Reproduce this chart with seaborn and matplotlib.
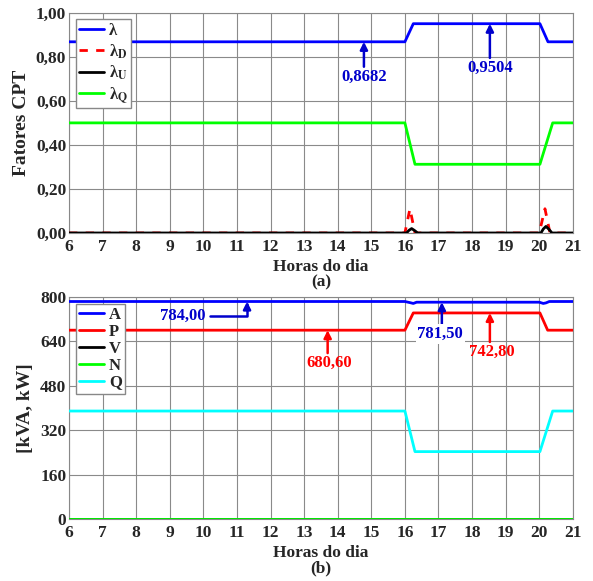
import numpy as np
import pandas as pd
import seaborn as sns
import matplotlib.pyplot as plt

# ---- data ----
hours_ticks = list(range(6, 22))

# (a) CPT factors
lam_h = [6, 16.0, 16.25, 20.02, 20.26, 21]
lam_v = [0.8682, 0.8682, 0.9504, 0.9504, 0.8682, 0.8682]
lamD_h = [6, 16.0, 16.15, 16.3, 20.0, 20.17, 20.32, 21]
lamD_v = [0.0, 0.0, 0.11, 0.0, 0.0, 0.11, 0.0, 0.0]
lamU_h = [6, 16.05, 16.12, 16.2, 16.28, 16.38, 20.05, 20.12, 20.2, 20.28, 20.38, 21]
lamU_v = [0.0, 0.0, 0.012, 0.02, 0.012, 0.0, 0.0, 0.018, 0.03, 0.018, 0.0, 0.0]
lamQ_h = [6, 16.0, 16.3, 20.02, 20.4, 21]
lamQ_v = [0.5, 0.5, 0.312, 0.312, 0.5, 0.5]

# (b) powers
A_h = [6, 16.0, 16.15, 16.25, 16.35, 20.0, 20.12, 20.2, 20.3, 21]
A_v = [784.0, 784.0, 780.0, 777.0, 781.5, 781.5, 777.0, 779.0, 784.0, 784.0]
P_h = [6, 16.0, 16.25, 20.02, 20.25, 21]
P_v = [680.6, 680.6, 742.8, 742.8, 680.6, 680.6]
V_h = [6, 21]
V_v = [0.0, 0.0]
N_h = [6, 21]
N_v = [0.0, 0.0]
Q_h = [6, 16.0, 16.3, 20.02, 20.4, 21]
Q_v = [389.2, 389.2, 242.9, 242.9, 389.2, 389.2]

top_yticks = [0.0, 0.2, 0.4, 0.6, 0.8, 1.0]
top_ylabels = ['0,00', '0,20', '0,40', '0,60', '0,80', '1,00']
bot_yticks = [0, 160, 320, 480, 640, 800]
bot_ylabels = ['0', '160', '320', '480', '640', '800']

sns.set_theme(style='whitegrid')
plt.rcParams['font.family'] = ['Liberation Serif', 'DejaVu Serif']
plt.rcParams['font.weight'] = 'bold'
plt.rcParams['mathtext.fontset'] = 'stix'

fig = plt.figure(figsize=(5.93, 5.81), dpi=100)
ax1 = fig.add_axes([0.1164, 0.599, 0.8496, 0.379])
ax2 = fig.add_axes([0.1164, 0.1067, 0.8496, 0.382])

blue = '#0000ff'
dblue = '#0000cc'
lw = 2.0
ann_fs = 12


def callout(ax, label, color, head, tail, text_xy, conn=None, box=False):
    props = dict(arrowstyle='-|>', color=color, lw=1.8, shrinkA=0, shrinkB=0,
                 mutation_scale=11)
    if conn:
        props['connectionstyle'] = conn
    ax.annotate('', xy=head, xytext=tail, arrowprops=props, zorder=6)
    kw = dict(color=color, fontsize=ann_fs, fontweight='bold', ha='center', va='center',
              zorder=7)
    if box:
        kw['bbox'] = dict(boxstyle='square,pad=0.1', fc='white', ec='none')
    ax.text(text_xy[0], text_xy[1], label, **kw)


# ---- (a) ----
sns.lineplot(x=lam_h, y=lam_v, ax=ax1, color=blue, lw=lw, label='λ', zorder=4)
sns.lineplot(x=lamD_h, y=lamD_v, ax=ax1, color='#ff0000', lw=lw, label='λ$_\\mathbf{D}$',
             zorder=3, linestyle=(0, (3, 3)))
sns.lineplot(x=lamU_h, y=lamU_v, ax=ax1, color='black', lw=lw, label='λ$_\\mathbf{U}$', zorder=5)
sns.lineplot(x=lamQ_h, y=lamQ_v, ax=ax1, color='#00ff00', lw=lw, label='λ$_\\mathbf{Q}$', zorder=4)

callout(ax1, '0,8682', dblue, (14.78, 0.8682), (14.78, 0.755), (14.78, 0.71))
callout(ax1, '0,9504', dblue, (18.53, 0.9504), (18.53, 0.795), (18.53, 0.752))

ax1.set_xlim(6, 21)
ax1.set_ylim(0, 1)
ax1.set_xticks(hours_ticks)
ax1.set_xticklabels([str(h) for h in hours_ticks])
ax1.set_yticks(top_yticks)
ax1.set_yticklabels(top_ylabels)
ax1.set_ylabel('Fatores CPT', fontsize=14, fontweight='bold', labelpad=4)
ax1.set_xlabel('Horas do dia\n(a)', fontsize=12.5, fontweight='bold', labelpad=3, linespacing=1.0)
ax1.legend(loc='upper left', bbox_to_anchor=(0.0, 1.0), fontsize=12, frameon=True,
           fancybox=False, edgecolor='#888888', framealpha=1, handlelength=1.5,
           borderpad=0.2, labelspacing=0.2, handletextpad=0.3, borderaxespad=0.4)

# ---- (b) ----
sns.lineplot(x=A_h, y=A_v, ax=ax2, color=blue, lw=lw, label='A', zorder=4)
sns.lineplot(x=P_h, y=P_v, ax=ax2, color='#ff0000', lw=lw, label='P', zorder=4)
sns.lineplot(x=V_h, y=V_v, ax=ax2, color='black', lw=lw, label='V', zorder=4)
sns.lineplot(x=N_h, y=N_v, ax=ax2, color='#00ff00', lw=lw, label='N', zorder=5)
sns.lineplot(x=Q_h, y=Q_v, ax=ax2, color='#00ffff', lw=lw, label='Q', zorder=4)

callout(ax2, '784,00', dblue, (11.3, 784), (10.2, 731), (9.4, 731),
        conn='angle,angleA=0,angleB=90,rad=0')
callout(ax2, '781,50', dblue, (17.1, 781.5), (17.1, 690), (17.05, 667), box=True)
callout(ax2, '680,60', '#ff0000', (13.7, 680.6), (13.7, 598), (13.74, 562))
callout(ax2, '742,80', '#ff0000', (18.53, 742.8), (18.53, 638), (18.6, 602))

ax2.set_xlim(6, 21)
ax2.set_ylim(0, 800)
ax2.set_xticks(hours_ticks)
ax2.set_xticklabels([str(h) for h in hours_ticks])
ax2.set_yticks(bot_yticks)
ax2.set_yticklabels(bot_ylabels)
ax2.set_ylabel('[kVA, kW]', fontsize=14, fontweight='bold', labelpad=4)
ax2.set_xlabel('Horas do dia\n(b)', fontsize=12.5, fontweight='bold', labelpad=3, linespacing=1.0)
ax2.legend(loc='upper left', bbox_to_anchor=(0.0, 1.0), fontsize=12, frameon=True,
           fancybox=False, edgecolor='#888888', framealpha=1, handlelength=1.5,
           borderpad=0.2, labelspacing=0.05, handletextpad=0.3, borderaxespad=0.4)

for ax in (ax1, ax2):
    ax.tick_params(axis='both', labelsize=12.5, pad=2, length=0)
    ax.tick_params(axis='x', pad=4)
    for lab in ax.get_xticklabels() + ax.get_yticklabels():
        lab.set_fontweight('bold')
    ax.grid(True, color='#8a8a8a', lw=0.8)
    for s in ax.spines.values():
        s.set_color('#888888')
        s.set_linewidth(0.8)

fig.savefig('out.png', dpi=100)
